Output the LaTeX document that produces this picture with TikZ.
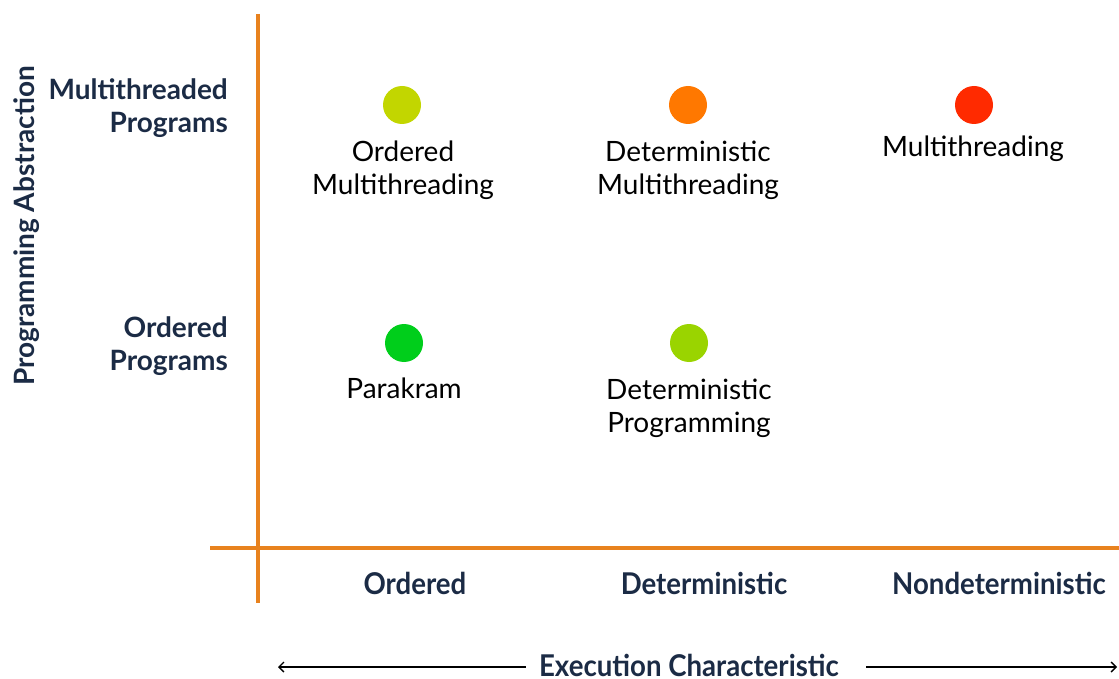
\documentclass[tikz,border=0pt]{standalone}
\usepackage{fontspec}
\setmainfont{Lato}
\newfontfamily\condfont[FakeStretch=0.92]{Lato}
\usetikzlibrary{arrows.meta,positioning}
\definecolor{axis}{HTML}{E8821E}
\definecolor{navy}{HTML}{1B2B45}
\definecolor{lime}{HTML}{C2D600}
\definecolor{amber}{HTML}{FF7800}
\definecolor{hot}{HTML}{FF2A00}
\definecolor{leaf}{HTML}{00CE1B}
\definecolor{grass}{HTML}{9AD400}
\tikzset{
  dot/.style={circle,minimum size=38pt,inner sep=0pt},
  cell/.style={font=\fontsize{28}{33}\selectfont,align=center,inner sep=0pt},
  rowlab/.style={font=\fontsize{28}{33}\selectfont\bfseries\color{navy},
    align=right,anchor=east,inner sep=0pt},
  collab/.style={font=\condfont\fontsize{30}{34}\selectfont\bfseries\color{navy},
    inner sep=0pt},
  axisline/.style={draw=axis,line width=3.5pt},
  arrow/.style={-{Straight Barb[length=5pt,width=10pt]},line width=1.4pt,draw=black}
}
\begin{document}
\begin{tikzpicture}[x=1pt,y=-1pt]
\useasboundingbox (0,0) rectangle (1119,679);
% axes
\coordinate (ytop) at (258,14);
\coordinate (ybot) at (258,603);
\coordinate (xleft) at (210,548);
\coordinate (xright) at (1119,548);
\draw[axisline] (ytop) -- (ybot);
\draw[axisline] (xleft) -- (xright);

% row labels
\node[rowlab] (rowmt) at (228,108) {Multithreaded\\Programs};
\node[rowlab] (roword) at (228,346) {Ordered\\Programs};
\node[font=\fontsize{28}{30}\selectfont\bfseries\color{navy},rotate=90,inner sep=0pt]
  (yaxis) at (27,226) {Programming Abstraction};

% top row
\node[dot,fill=lime] (omt) at (402,105) {};
\node[dot,fill=amber] (dmt) at (688,105) {};
\node[dot,fill=hot] (mt) at (974,105) {};
\node[cell] (omtlab) at (403,170) {Ordered\\Multithreading};
\node[cell] (dmtlab) at (688,170) {Deterministic\\Multithreading};
\node[cell] (mtlab) at (973,149) {Multithreading};

% bottom row
\node[dot,fill=leaf] (pk) at (404,343) {};
\node[dot,fill=grass] (dp) at (689,343) {};
\node[cell] (pklab) at (404,388) {Parakram};
\node[cell] (dplab) at (689,408) {Deterministic\\Programming};

% column labels
\node[collab] (colord) at (415,583) {Ordered};
\node[collab] (coldet) at (704,583) {Deterministic};
\node[collab] (colnd) at (999,583) {Nondeterministic};

% execution axis
\node[collab,anchor=base] (xaxis) at (689,676) {Execution Characteristic};
\coordinate (arrl) at (278,667);
\coordinate (arrr) at (1117,667);
\draw[arrow] ([xshift=-13pt]xaxis.west |- arrl) -- (arrl);
\draw[arrow] ([xshift=27pt]xaxis.east |- arrr) -- (arrr);
\end{tikzpicture}
\end{document}
